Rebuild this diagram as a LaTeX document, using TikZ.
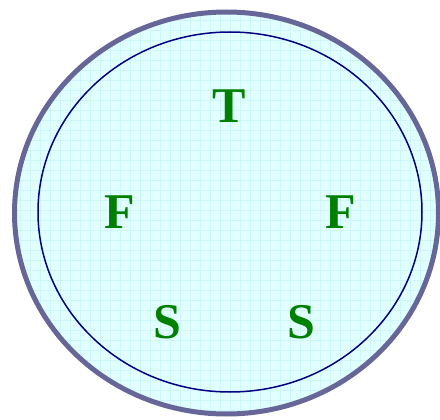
\documentclass[tikz,border=0pt]{standalone}
\usepackage{fontspec}
\setmainfont{Liberation Serif}
\definecolor{rim}{HTML}{666699}
\definecolor{inner}{HTML}{000080}
\definecolor{bgfill}{HTML}{E2FFFF}
\definecolor{gridc}{HTML}{CCF6F8}
\definecolor{letter}{HTML}{008000}
\tikzset{
  lt/.style={font=\fontsize{50}{50}\selectfont\bfseries, text=letter, inner sep=0pt, anchor=center},
  gridline/.style={gridc, line width=0.5pt},
}
\begin{document}
\begin{tikzpicture}[x=1pt,y=-1pt]
\useasboundingbox (0,0) rectangle (440,420);
\begin{scope}
  \clip (226.5,213) ellipse [x radius=211.5, y radius=201];
  \fill[bgfill] (0,0) rectangle (440,420);
  \foreach \i in {0,10,...,440} {
    \draw[gridline] (\i,0) -- (\i,420);
  }
  \foreach \j in {0,10,...,420} {
    \draw[gridline] (0,\j) -- (440,\j);
  }
\end{scope}
\draw[rim, line width=5pt] (226.5,213) ellipse [x radius=212, y radius=201];
\draw[inner, line width=1.5pt] (230,212) ellipse [x radius=192, y radius=180];
\node[lt] (t) at (229,106) {T};
\node[lt] (f1) at (120,212) {F};
\node[lt] (f2) at (341,212) {F};
\node[lt] (s1) at (167,322) {S};
\node[lt] (s2) at (301,322) {S};
\end{tikzpicture}
\end{document}
